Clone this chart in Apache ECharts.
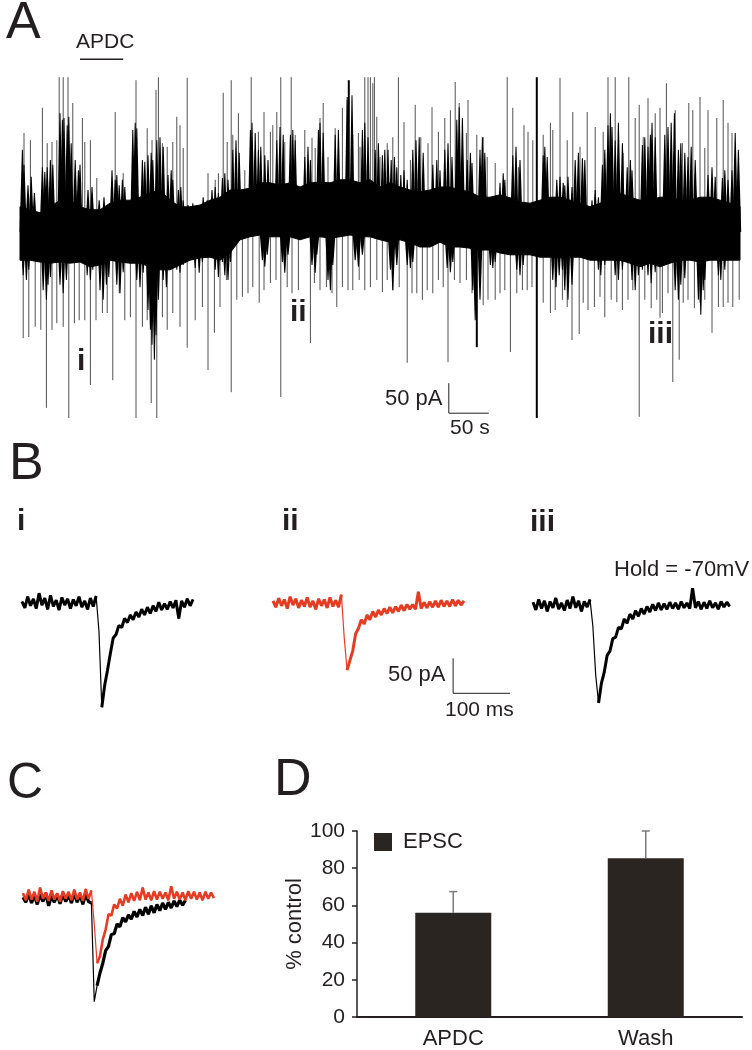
<!DOCTYPE html>
<html><head><meta charset="utf-8">
<script src="https://cdn.jsdelivr.net/npm/echarts@6/dist/echarts.min.js"></script>
<style>html,body{margin:0;padding:0;background:#fff}#c{width:752px;height:1050px}</style>
</head><body><div id="c"></div>
<script>
// ===== Panel A: continuous recording (time in s, current in pA, baseline = 0 pA) =====
const coreDt = 12.5; // s between envelope samples of the dense noise band
const coreTop = [42,37,32,42,53,53,42,37,37,48, 53,53,58,65,70,53,42,42,45,53, 58,70,70,73,82,82,78,82,75,82,
  83,82,87,87,82,87,75,82,75,70, 67,70,75,75,70,67,58,58,62,57, 50,48,53,58,58,53,48,42,48,53,
  65,58,53,53,58,58,53,53,58,58, 53,48,42];
const coreBot = [-47,-47,-50,-52,-50,-52,-50,-58,-55,-47, -50,-52,-52,-58,-63,-63,-55,-47,-43,-42,
  -47,-35,-13,-8,-5,-8,-8,-8,-13,-8, -8,-10,-8,-5,-8,-8,-13,-17,-13,-18, -25,-25,-17,-25,-25,-27,-30,-30,-35,-38,
  -38,-38,-42,-42,-43,-42,-42,-47,-47,-47, -47,-52,-58,-52,-58,-52,-47,-47,-50,-47, -47,-47,-47];
// thin isolated events [t (s), peak (pA)]
const spikesUp = [[5,165],[13,153],[28,207],[34,148],[40,150],[46,153],[49,258],[54,258],[60,258],[66,215],[78,190],[81,150],[88,153],[96,90],[119,200],[129,98],[145,253],[159,173],[165,153],[170,237],[173,258],[178,148],[184,142],[191,150],[196,192],[200,178],[204,140],[209,257],
  [235,98],[244,87],[248,98],[254,232],[259,150],[264,253],[266,162],[273,198],[281,103],[289,258],[298,167],[305,200],[313,167],[316,178],[321,200],[326,258],[331,150],[339,258],[344,162],[356,170],[365,157],[369,140],[375,190],[379,215],[385,125],[394,173],[403,207],[409,220],[416,162],[423,165],[425,142],[431,258],[435,258],[438,258],[441,248],[443,258],[446,192],[450,125],
  [459,148],[466,158],[473,258],[480,183],[488,120],[494,212],[501,158],[510,148],[515,208],[523,167],[531,190],[538,203],[544,250],[549,215],[558,165],[560,220],[571,162],[579,158],[584,125],[594,115],[609,258],[616,207],[623,108],[630,178],[635,167],[641,153],[654,162],[663,182],[666,170],[675,257],[684,153],
  [691,200],[700,142],[709,200],[719,175],[729,167],[735,258],[744,258],[754,132],[761,258],[769,190],[774,212],[779,158],[785,223],[794,198],[800,207],[808,248],[819,203],[828,148],[836,215],[841,203],[850,225],[856,140],[860,203],[871,190],[879,220],[885,182],[890,165],[898,115]];
const spikesDown = [[4,-177],[11,-175],[19,-158],[26,-163],[33,-293],[40,-163],[46,-152],[54,-158],[61,-310],[68,-152],[74,-147],[81,-147],[88,-255],[95,-147],[103,-135],[109,-135],[116,-247],[124,-102],[131,-147],[138,-142],[145,-310],[153,-158],[159,-147],[164,-285],[171,-310],[178,-142],[184,-163],[191,-135],[200,-158],[209,-193],[219,-147],
  [228,-125],[235,-230],[243,-168],[250,-125],[258,-80],[264,-267],[271,-113],[278,-108],[285,-102],[291,-92],[299,-118],[305,-97],[313,-85],[320,-80],[326,-275],[334,-92],[340,-102],[348,-97],[363,-185],[368,-85],[375,-97],[383,-92],[390,-102],[396,-125],[403,-92],[410,-97],[416,-97],[424,-80],[431,-97],[438,-92],[446,-80],[453,-100],
  [459,-80],[466,-97],[474,-92],[484,-218],[490,-102],[496,-102],[503,-113],[509,-97],[516,-102],[523,-80],[529,-92],[535,-217],[543,-80],[550,-85],[558,-80],[565,-102],[579,-122],[585,-113],[594,-113],[600,-102],[606,-97],[613,-200],[621,-102],[628,-97],[634,-97],[640,-92],[654,-118],[663,-135],[669,-130],[678,-113],
  [684,-125],[690,-180],[699,-170],[704,-118],[710,-130],[718,-125],[725,-108],[731,-142],[739,-113],[746,-117],[753,-130],[760,-113],[766,-97],[774,-308],[781,-113],[789,-127],[796,-113],[800,-143],[803,-135],[810,-102],[816,-250],[824,-213],[829,-118],[835,-113],[843,-127],[850,-118],[856,-113],[865,-168],[873,-125],[879,-125],[885,-118],[891,-125],[899,-113]];
// large single events drawn heavier [t (s), peak (pA)]
const darkSpikes = [[411,253],[571,-192],[646,258],[646,-310]];
// dense bursts of events [t (s), extent (pA)]
const burstsUp = [[3,137],[5,112],[10,78],[14,92],[18,65],[28,108],[31,100],[34,108],[38,120],[41,112],[50,198],[53,187],[55,190],[59,178],[61,192],[64,148],[69,120],[73,103],[75,112],[85,70],[90,75],[99,53],[105,58],[109,45],[115,103],[119,87],[121,95],[124,78],[128,87],[131,75],[141,170],[144,182],[146,173],[153,120],[156,117],[160,128],[164,132],[166,120],[171,153],[175,158],[179,142],[185,95],[189,103],[191,87],[198,70],[201,75],[204,53],[210,45],[216,48],[221,37],
  [229,58],[234,53],[240,70],[244,75],[248,65],[253,90],[256,98],[260,87],[266,137],[270,153],[274,132],[288,170],[290,182],[294,165],[298,137],[301,142],[306,128],[310,120],[321,153],[325,175],[329,162],[338,162],[341,170],[344,153],[356,125],[360,142],[363,120],[373,170],[375,182],[379,165],[394,162],[398,170],[409,225],[415,228],[428,170],[431,182],[435,158],[444,137],[448,148],[453,128],[456,137],
  [460,137],[464,120],[468,125],[471,108],[476,95],[480,103],[484,87],[491,137],[495,153],[499,158],[504,132],[516,112],[521,120],[525,103],[531,137],[535,148],[540,125],[546,187],[549,208],[553,190],[559,120],[563,132],[565,115],[575,137],[578,158],[581,132],[600,82],[604,98],[606,87],[616,128],[620,142],[625,120],[654,128],[656,142],[659,125],[671,87],[675,92],[679,82],
  [681,78],[685,92],[690,75],[694,120],[698,132],[703,123],[706,120],[715,53],[719,70],[723,58],[728,112],[731,137],[735,178],[738,198],[740,175],[744,153],[748,182],[753,148],[759,108],[763,120],[765,103],[778,145],[781,158],[785,142],[788,162],[790,182],[794,158],[806,162],[810,175],[814,182],[818,198],[823,137],[826,148],[831,132],[835,125],[839,142],[844,120],[860,95],[865,108],[869,92],[878,90],[881,103],[885,87],[890,103],[894,165],[898,137]];
const burstsDown = [[4,-72],[8,-80],[11,-63],[29,-97],[33,-113],[35,-88],[38,-75],[50,-88],[54,-102],[58,-80],[84,-72],[88,-80],[91,-63],[100,-97],[104,-113],[108,-88],[111,-75],[121,-88],[125,-102],[129,-67],[146,-80],[150,-92],[154,-68],[160,-130],[163,-163],[165,-188],[168,-213],[170,-172],[173,-113],[179,-80],[183,-92],[188,-63],[196,-63],[200,-68],[204,-55],
  [219,-60],[224,-68],[228,-50],[244,-63],[248,-75],[253,-50],[256,-72],[260,-80],[263,-50],[303,-47],[306,-58],[309,-38],[328,-50],[331,-68],[335,-38],[365,-55],[369,-68],[371,-38],[385,-80],[388,-97],[391,-55],[419,-47],[423,-58],[428,-38],
  [463,-63],[466,-97],[471,-55],[484,-55],[488,-60],[491,-50],[534,-60],[538,-67],[541,-50],[566,-97],[569,-147],[575,-113],[588,-55],[591,-60],[594,-50],[621,-63],[625,-72],[629,-55],[666,-80],[670,-92],[674,-72],[678,-63],
  [681,-97],[685,-113],[690,-88],[723,-63],[726,-72],[731,-55],[744,-72],[748,-80],[753,-63],[765,-80],[769,-97],[773,-72],[778,-63],[785,-72],[789,-85],[794,-67],[819,-97],[823,-113],[826,-88],[831,-77],[848,-113],[851,-138],[854,-97],[856,-80],[873,-72],[876,-80],[881,-63]];
const apdcPeriod = [75, 129];        // s
const apdcMarkLevel = 288;           // pA (bar drawn above trace)
const scaleA_origin = [536, -302];   // [s, pA]
const scaleA_len = [50, 50];         // [50 s, 50 pA]

// ===== Panel B / C: single EPSCs (time in ms, current in pA) =====
const epscDt = 5; // ms per sample
const traceI = [2,-7,9,-4,6,-8,14,-3,7,-9, 11,-5,4,-10,8,-3,6,-8,5,-4, 9,-6,3,-9,7,-5,10,-40,-149,-118,
  -96,-72,-50,-45,-32,-35,-22,-28,-17,-24, -13,-20,-9,-17,-6,-15,-4,-12,1,-10, -1,-9,2,-7,4,-22,3,-6,6,-4, 5];
const traceII = [3,-6,7,-4,5,-8,9,-3,6,-7, 4,-5,8,-6,3,-9,6,-4,5,-7, 8,-5,4,-6,12,-50,-96,-82,-68,-44,
  -36,-24,-30,-17,-24,-12,-20,-10,-17,-8, -15,-6,-14,-5,-12,-3,-11,-2,-9,-2, -9,16,-8,1,-7,2,-6,3,-6,4, -5,3,-5,5,-4,4,-3,3];
const traceIII = [4,-7,8,-5,6,-9,5,-4,10,-6, 3,-8,7,-5,12,-4,6,-9,5,-3, 8,-30,-100,-140,-112,-96,-72,-66,-48,-46,
  -32,-34,-20,-26,-13,-20,-8,-16,-5,-13, -2,-10,1,-8,3,-7,2,-6,4,-5, 3,-6,5,-4,3,-5,24,-4,5,-6, 4,-5,6,-4,3,-6,5,-3,4,-2];
const overlayControl = [-2,-9,3,-10,1,-12,2,-8,4,-14, 0,-9,2,-11,3,-8,1,-10,4,-9, 2,-12,3,-8,-10,-151,-128,-110,-96,-78,
  -72,-55,-54,-40,-44,-31,-37,-27,-33,-22, -30,-19,-28,-16,-26,-14,-24,-12,-21,-10, -19,-9,-17,-7,-15,-6,-13,-6];
const overlayAPDC = [4,-6,9,-5,6,-8,12,-4,5,-7, 8,-5,4,-8,7,-4,6,-6,9,-5, 5,-7,10,-4,8,-40,-96,-86,-62,-48,
  -26,-28,-12,-18,-4,-14,2,-9,4,-7, 6,-6,12,-5,5,-6,7,-5,6,-4, 5,-6,14,-4,6,-5,5,-6,7,-4, 6,-5,5,-6,6,-4,5,-3];
// sample index of the fast rising phase in each trace (drawn as a thin line)
const onsetI = [27], onsetII = [25], onsetIII = [21, 22], onsetCtl = [25], onsetAPDC = [25];
const scaleB_origin = [316, -129];   // [ms, pA]
const scaleB_len = [100, 50];        // [100 ms, 50 pA]

// ===== Panel D: summary =====
const barCategories = ['APDC', 'Wash'];
const epscPercent = [56, 85.4];
const epscSem = [11.4, 14.6];
const yTicksD = [0, 20, 40, 60, 80, 100];

// ---------------- build chart ----------------
const FONT = '"Liberation Sans", Arial, Helvetica, sans-serif';
const INK = '#231f20';
const RED = '#e63c23';
const sampled = (arr, dt) => arr.map((v, k) => [k * dt, v]);
const sampledGap = (arr, dt, gaps) => arr.map((v, k) => [k * dt, gaps.indexOf(k) >= 0 ? null : v]);

function spikeRenderer(color, width) {
  return function (params, api) {
    const p0 = api.coord([api.value(0), 0]);
    const p1 = api.coord([api.value(0), api.value(1)]);
    return { type: 'line', shape: { x1: p0[0], y1: p0[1], x2: p1[0], y2: p1[1] },
      style: { stroke: color, lineWidth: width } };
  };
}
// a burst of events: narrow jagged spike rising from the baseline
function burstRenderer(halfBase) {
  return function (params, api) {
    const p0 = api.coord([api.value(0), 0]);
    const p1 = api.coord([api.value(0), api.value(1)]);
    return { type: 'polygon', shape: { points: [[p0[0] - halfBase, p0[1]], [p1[0] - 0.5, p1[1]], [p1[0] + 0.5, p1[1]], [p0[0] + halfBase, p0[1]]] },
      style: { fill: '#000' } };
  };
}

const hiddenVal = (min, max, gi) => ({ type: 'value', min, max, gridIndex: gi, show: false, splitLine: { show: false } });

const chart = echarts.init(document.getElementById('c'), null, { renderer: 'canvas', width: 752, height: 1050 });

function txt(text, x, y, size, weight) {
  return { type: 'text', x, y, silent: true,
    style: { text, font: (weight || 'normal') + ' ' + size + 'px ' + FONT, fill: INK, textAlign: 'left', align: 'left',
      textVerticalAlign: 'middle', verticalAlign: 'middle' } };
}
function traceSeries(arr, gaps, axis, color, thick) {
  return [
    { type: 'line', xAxisIndex: axis, yAxisIndex: axis, showSymbol: false, silent: true, data: sampled(arr, epscDt),
      lineStyle: { color, width: 1.2 } },
    { type: 'line', xAxisIndex: axis, yAxisIndex: axis, showSymbol: false, silent: true, connectNulls: false,
      data: sampledGap(arr, epscDt, gaps), lineStyle: { color, width: thick } }
  ];
}

const option = {
  animation: false,
  backgroundColor: '#fff',
  grid: [
    { left: 20, top: 52, width: 720, height: 372 },      // 0 A
    { left: 22, top: 575, width: 171, height: 140 },     // 1 B i
    { left: 273, top: 575, width: 250.8, height: 140 },  // 2 B ii (+ scale bar)
    { left: 533, top: 577, width: 199.5, height: 140 },  // 3 B iii
    { left: 23, top: 868, width: 193.8, height: 140 },   // 4 C
    { left: 357, top: 831, width: 385, height: 187 }     // 5 D
  ],
  xAxis: [
    hiddenVal(0, 900, 0), hiddenVal(0, 300, 1), hiddenVal(0, 440, 2), hiddenVal(0, 350, 3), hiddenVal(0, 340, 4),
    { type: 'category', gridIndex: 5, data: barCategories,
      axisLine: { lineStyle: { color: INK, width: 2 } }, axisTick: { show: false },
      axisLabel: { color: INK, fontSize: 22, fontFamily: FONT, margin: 11 } }
  ],
  yAxis: [
    hiddenVal(-320, 300, 0), hiddenVal(-160, 40, 1), hiddenVal(-160, 40, 2), hiddenVal(-160, 40, 3), hiddenVal(-160, 40, 4),
    { type: 'value', gridIndex: 5, min: yTicksD[0], max: yTicksD[yTicksD.length - 1], interval: yTicksD[1] - yTicksD[0],
      name: '% control', nameLocation: 'middle', nameGap: 51, nameRotate: 90, nameMoveOverlap: false,
      nameTextStyle: { color: INK, fontSize: 22, fontFamily: FONT },
      axisLine: { show: true, lineStyle: { color: INK, width: 1.5 } },
      axisTick: { show: true, length: 5, lineStyle: { color: INK, width: 1.5 } },
      splitLine: { show: false },
      axisLabel: { color: INK, fontSize: 21, fontFamily: FONT, margin: 12 } }
  ],
  legend: { data: ['EPSC'], left: 374, top: 831, padding: 0, icon: 'rect', itemWidth: 18, itemHeight: 18,
    textStyle: { color: INK, fontSize: 22, fontFamily: FONT, padding: [0, 0, 0, 6] }, selectedMode: false },
  series: [
    // Panel A
    { type: 'custom', xAxisIndex: 0, yAxisIndex: 0, z: 1, data: spikesUp, renderItem: spikeRenderer('#505050', 1), silent: true },
    { type: 'custom', xAxisIndex: 0, yAxisIndex: 0, z: 1, data: spikesDown, renderItem: spikeRenderer('#505050', 1), silent: true },
    { type: 'custom', xAxisIndex: 0, yAxisIndex: 0, z: 2, data: [[0, 0]], silent: true,
      renderItem: function (params, api) {
        const pts = [];
        for (let k = 0; k < coreTop.length; k++) pts.push(api.coord([k * coreDt, coreTop[k]]));
        for (let k = coreBot.length - 1; k >= 0; k--) pts.push(api.coord([k * coreDt, coreBot[k]]));
        return { type: 'polygon', shape: { points: pts }, style: { fill: '#000', stroke: '#000', lineWidth: 1 } };
      } },
    { type: 'custom', xAxisIndex: 0, yAxisIndex: 0, z: 3, data: burstsUp, renderItem: burstRenderer(2.8), silent: true },
    { type: 'custom', xAxisIndex: 0, yAxisIndex: 0, z: 3, data: burstsDown, renderItem: burstRenderer(2.8), silent: true },
    { type: 'custom', xAxisIndex: 0, yAxisIndex: 0, z: 3, data: darkSpikes, renderItem: spikeRenderer('#000', 2), silent: true },
    { type: 'line', xAxisIndex: 0, yAxisIndex: 0, showSymbol: false, silent: true,
      data: [[apdcPeriod[0], apdcMarkLevel], [apdcPeriod[1], apdcMarkLevel]], lineStyle: { color: INK, width: 1.5 } },
    { type: 'line', xAxisIndex: 0, yAxisIndex: 0, showSymbol: false, silent: true,
      data: [[scaleA_origin[0], scaleA_origin[1] + scaleA_len[1]], scaleA_origin, [scaleA_origin[0] + scaleA_len[0], scaleA_origin[1]]],
      lineStyle: { color: INK, width: 1 } },
    // Panel B
    ...traceSeries(traceI, onsetI, 1, '#000', 3),
    ...traceSeries(traceII, onsetII, 2, RED, 3),
    ...traceSeries(traceIII, onsetIII, 3, '#000', 3),
    { type: 'line', xAxisIndex: 2, yAxisIndex: 2, showSymbol: false, silent: true,
      data: [[scaleB_origin[0], scaleB_origin[1] + scaleB_len[1]], scaleB_origin, [scaleB_origin[0] + scaleB_len[0], scaleB_origin[1]]],
      lineStyle: { color: INK, width: 1 } },
    // Panel C
    ...traceSeries(overlayControl, onsetCtl, 4, '#000', 3.2),
    ...traceSeries(overlayAPDC, onsetAPDC, 4, RED, 2.6),
    // Panel D
    { name: 'EPSC', type: 'bar', xAxisIndex: 5, yAxisIndex: 5, data: epscPercent, barWidth: 76,
      itemStyle: { color: '#2b2522' }, silent: true },
    { type: 'custom', xAxisIndex: 5, yAxisIndex: 5, z: 3, silent: true,
      data: epscPercent.map((v, k) => [k, v, v + epscSem[k]]),
      renderItem: function (params, api) {
        const b = api.coord([api.value(0), api.value(1)]);
        const t = api.coord([api.value(0), api.value(2)]);
        const st = { stroke: '#7a7a7a', lineWidth: 1.5 };
        return { type: 'group', children: [
          { type: 'line', shape: { x1: b[0], y1: b[1], x2: t[0], y2: t[1] }, style: st },
          { type: 'line', shape: { x1: t[0] - 4, y1: t[1], x2: t[0] + 4, y2: t[1] }, style: st }
        ] };
      } }
  ],
  graphic: [
    txt('A', 6, 23.5, 52), txt('APDC', 76, 42.5, 21),
    txt('i', 77, 361.5, 30, 'bold'), txt('ii', 290, 313, 30, 'bold'), txt('iii', 648, 335, 30, 'bold'),
    txt('50 pA', 385, 398.5, 22), txt('50 s', 450, 428, 21),
    txt('B', 9, 465, 52), txt('i', 17, 521.5, 30, 'bold'), txt('ii', 282, 521.5, 30, 'bold'), txt('iii', 530, 523, 30, 'bold'),
    txt('Hold = -70mV', 614, 570, 22), txt('50 pA', 388, 675, 22), txt('100 ms', 445, 710.5, 21),
    txt('C', 7, 784, 50), txt('D', 274, 781, 52)
  ]
};
chart.setOption(option);
</script>
</body></html>
